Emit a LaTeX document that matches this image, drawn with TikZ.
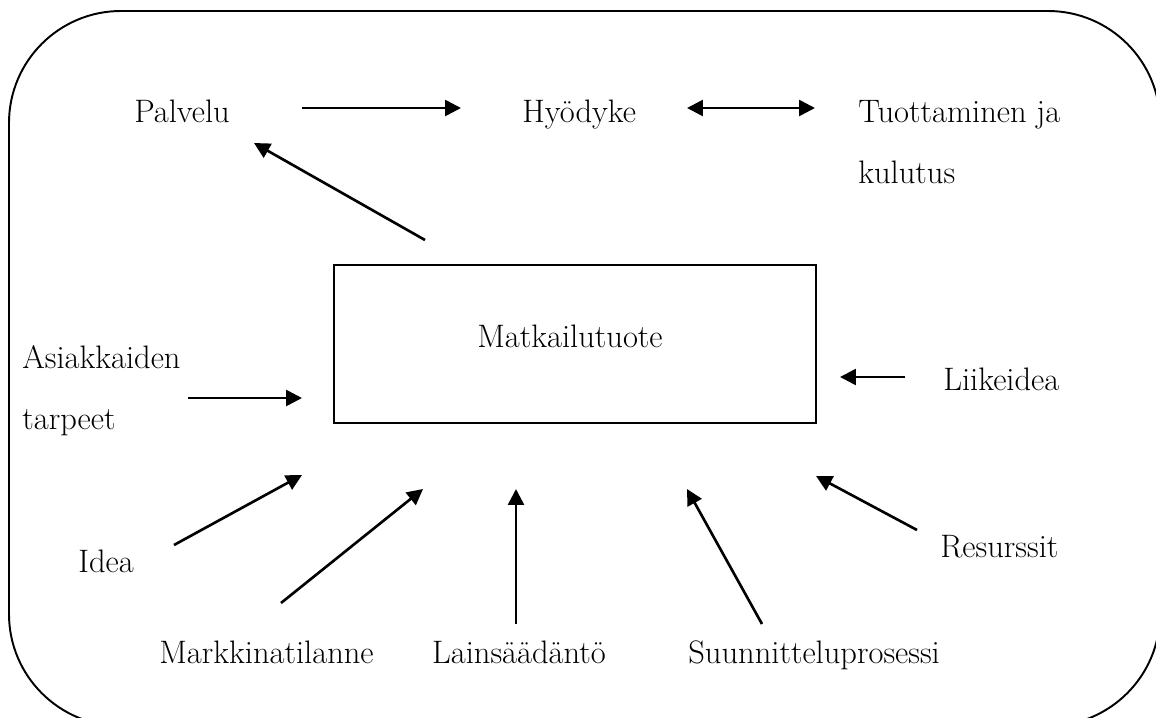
\documentclass[tikz,border=0pt]{standalone}
\usepackage{tikz}
\usetikzlibrary{%
    arrows.meta,
    positioning
}

\begin{document}
\begin{tikzpicture}[x=0.02cm, y=-0.02cm,
    teksti/.style={inner sep=0, font=\fontsize{18.5}{34.7}\selectfont},
    nuoli/.style={line width=1.5pt, -{Triangle[length=9pt, width=9pt]}},
    kaksinuoli/.style={line width=1.5pt, {Triangle[length=9pt, width=9pt]}-{Triangle[length=9pt, width=9pt]}},
    laatikko/.style={draw, line width=1.1pt, minimum width=9.64cm, minimum height=3.16cm}]
      \useasboundingbox (0,0) rectangle (1156,717);
      \clip (0,0) rectangle (1156,717);
      \draw[line width=1.1pt, rounded corners=2.24cm] (9,11) rectangle (1160,726);

      % ylarivi
      \node[teksti, anchor=base west] (palvelu) at (134,122) {Palvelu};
      \node[teksti, anchor=base west] (hyodyke) at (522,122) {Hyödyke};
      \node[teksti, anchor=north west, align=left] (tuottaminen) at (858,100) {Tuottaminen ja\\kulutus};

      % keskella
      \node[laatikko] (tuote) at (575,344) {};
      \node[teksti, anchor=base] (tuotenimi) at (570,347) {Matkailutuote};

      \node[teksti, anchor=north west, align=left] (asiakkaat) at (22,345) {Asiakkaiden\\tarpeet};
      \node[teksti, anchor=base west] (liikeidea) at (943,390) {Liikeidea};

      % alarivi
      \node[teksti, anchor=base west] (idea) at (78,572) {Idea};
      \node[teksti, anchor=base west] (resurssit) at (940,557) {Resurssit};
      \node[teksti, anchor=base west] (markkinat) at (159,663) {Markkinatilanne};
      \node[teksti, anchor=base] (laki) at (519,663) {Lainsäädäntö};
      \node[teksti, anchor=base west] (suunnittelu) at (688,663) {Suunnitteluprosessi};

      \coordinate (palvelu-o) at (302,108);
      \coordinate (hyodyke-v) at (461,108);
      \coordinate (hyodyke-o) at (687,108);
      \coordinate (tuottaminen-v) at (815,108);
      \coordinate (tuote-yla) at (425,240);
      \coordinate (palvelu-ala) at (254,143);
      \coordinate (asiakkaat-o) at (188,398);
      \coordinate (tuote-v) at (302,398);
      \coordinate (liikeidea-v) at (905,377);
      \coordinate (tuote-o) at (840,377);
      \coordinate (idea-yla) at (174,545);
      \coordinate (idea-k) at (302,475);
      \coordinate (markkinat-yla) at (281,603);
      \coordinate (markkinat-k) at (423,489);
      \coordinate (laki-yla) at (516,624);
      \coordinate (laki-k) at (516,489);
      \coordinate (suunnittelu-yla) at (762,624);
      \coordinate (suunnittelu-k) at (687,489);
      \coordinate (resurssit-yla) at (917,530);
      \coordinate (resurssit-k) at (816,476);

      \draw[nuoli] (palvelu-o) -- (hyodyke-v);
      \draw[kaksinuoli] (hyodyke-o) -- (tuottaminen-v);
      \draw[nuoli] (tuote-yla) -- (palvelu-ala);

      \draw[nuoli] (asiakkaat-o) -- (tuote-v);
      \draw[nuoli] (liikeidea-v) -- (tuote-o);

      \draw[nuoli] (idea-yla) -- (idea-k);
      \draw[nuoli] (markkinat-yla) -- (markkinat-k);
      \draw[nuoli] (laki-yla) -- (laki-k);
      \draw[nuoli] (suunnittelu-yla) -- (suunnittelu-k);
      \draw[nuoli] (resurssit-yla) -- (resurssit-k);
    \end{tikzpicture}
\end{document}
